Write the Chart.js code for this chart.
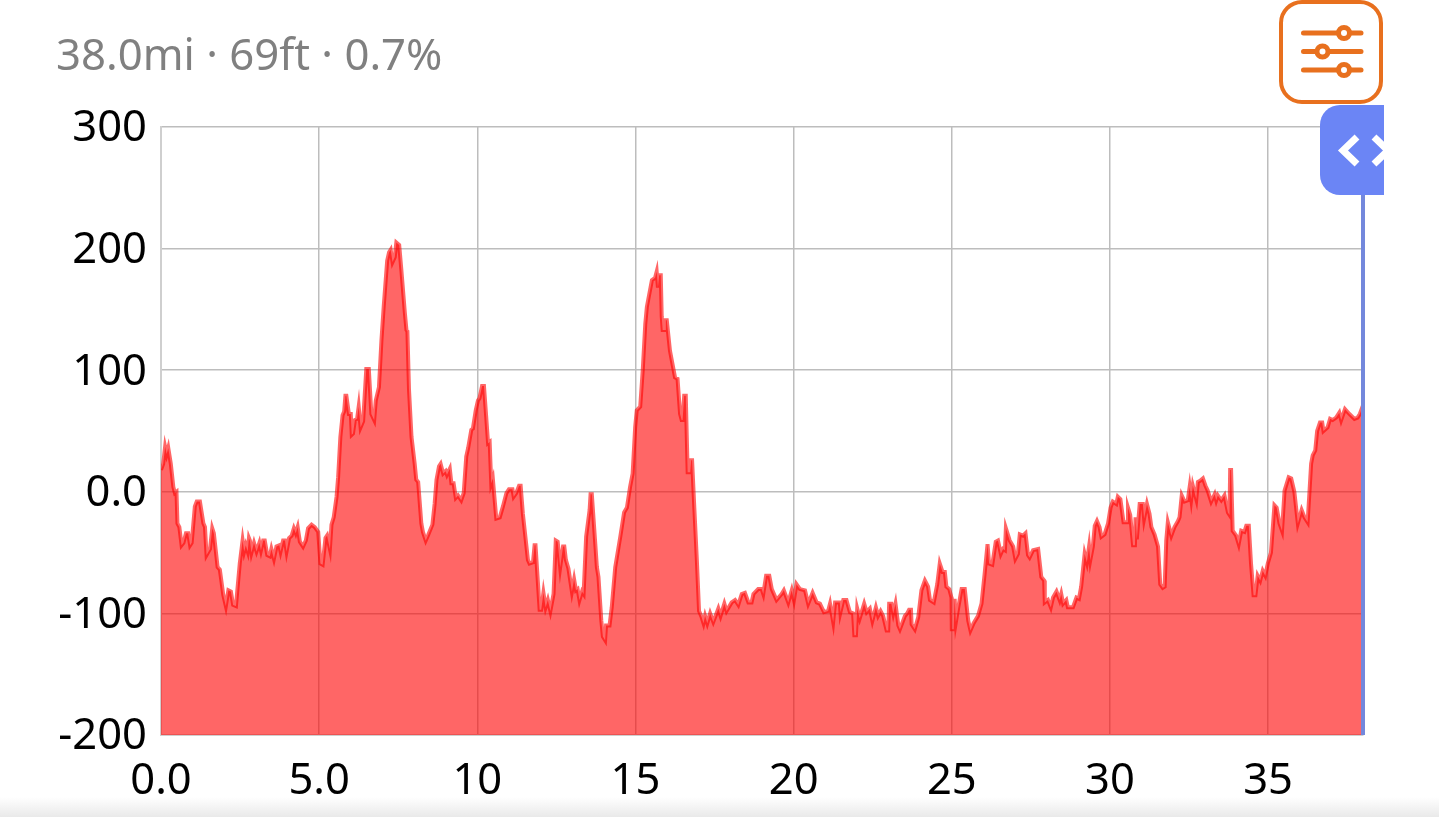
<!DOCTYPE html>
<html>
<head>
<meta charset="utf-8">
<title>Elevation profile</title>
<script src="https://cdn.jsdelivr.net/npm/chart.js@4"></script>
<style>
html,body{margin:0;padding:0;background:#fff;overflow:hidden;width:1439px;height:817px;font-family:"Noto Sans",sans-serif}
#wrap{position:relative;width:1439px;height:817px;overflow:hidden}
#summary{position:absolute;left:56px;top:26px;font-size:43.7px;line-height:54px;color:#808080;white-space:nowrap}
#filterBtn{position:absolute;left:1279px;top:0;width:96px;height:96px;border:4.5px solid #e8701e;border-radius:23px;background:#fff}
#handle{position:absolute;left:1320px;top:105px;width:64px;height:90px;background:#6b85f5;border-radius:20px 0 0 20px;overflow:hidden}
#cursor{position:absolute;left:1361px;top:195px;width:4px;height:540px;background:#7388dc}
#bottomBar{position:absolute;left:0;top:797px;width:1439px;height:20px;background:linear-gradient(#ffffff,#e9e9e9)}
canvas{position:absolute;left:0;top:0}
</style>
</head>
<body>
<div id="wrap">
  <canvas id="elevChart" width="1439" height="817"></canvas>
  <div id="bottomBar"></div>
  <div id="summary">38.0mi · 69ft · 0.7%</div>
  <div id="filterBtn">
    <svg width="96" height="96" viewBox="0 0 96 96" fill="none" stroke="#e8701e" stroke-width="5" stroke-linecap="round">
      <path d="M20.5 29H78M20.5 47.500H78M20.500 66H78"/>
      <circle cx="61" cy="29" r="5.500" fill="#fff"/>
      <circle cx="39.500" cy="47.500" r="5.500" fill="#fff"/>
      <circle cx="61" cy="66" r="5.500" fill="#fff"/>
    </svg>
  </div>
  <div id="cursor"></div>
  <div id="handle">
    <svg width="64" height="90" viewBox="0 0 64 90" fill="none" stroke="#fff" stroke-width="7">
      <path d="M37 32L23 45.500L37 59M54 32L68 45.500L54 59"/>
    </svg>
  </div>
</div>
<script>
"use strict"
//distance along the route, miles
var miles = [0,0.07,0.13,0.18,0.23,0.31,0.39,0.44,0.49,0.52,0.58,0.65,0.71,0.79,0.86,0.92,0.97,1.07,1.13,1.23,1.34,1.39,1.44,1.55,1.62,1.67,1.79,1.86,1.97,2.05,2.13,2.21,2.28,2.37,2.41,2.49,2.58,2.63,2.68,2.74,2.78,2.81,2.86,2.94,3.02,3.11,3.16,3.23,3.28,3.36,3.44,3.49,3.57,3.65,3.74,3.78,3.86,3.92,3.97,4.05,4.13,4.20,4.26,4.32,4.39,4.49,4.58,4.65,4.76,4.86,4.97,
5.04,5.11,5.20,5.25,5.34,5.39,5.46,5.55,5.60,5.67,5.74,5.79,5.83,5.86,5.94,6.00,6.03,6.07,6.13,6.20,6.25,6.31,6.39,6.49,6.57,6.65,6.74,6.79,6.89,6.97,7.04,7.15,7.21,7.26,7.32,7.39,7.44,7.53,7.60,7.71,7.76,7.79,7.84,7.92,8.02,8.07,8.13,8.23,8.28,8.37,8.44,8.58,8.65,8.71,8.79,8.84,8.92,9.00,9.04,9.13,9.18,9.25,9.32,9.39,9.49,9.57,9.65,9.71,9.81,9.86,9.95,
10.02,10.07,10.15,10.21,10.28,10.34,10.39,10.44,10.49,10.60,10.71,10.81,10.92,11.00,11.11,11.15,11.23,11.32,11.37,11.44,11.60,11.65,11.76,11.81,11.84,11.97,12.02,12.09,12.16,12.23,12.31,12.41,12.48,12.54,12.62,12.71,12.75,12.80,12.88,12.99,13.06,13.12,13.17,13.23,13.31,13.36,13.44,13.55,13.58,13.62,13.73,13.78,13.83,13.92,13.97,14.04,14.07,14.18,14.25,14.36,14.52,14.64,14.73,14.83,14.91,14.99,
15.04,15.15,15.23,15.31,15.36,15.52,15.62,15.67,15.71,15.75,15.80,15.83,15.86,15.94,15.96,15.99,16.09,16.25,16.33,16.41,16.46,16.49,16.54,16.59,16.65,16.73,16.76,16.79,16.86,16.94,17.01,17.09,17.15,17.20,17.27,17.36,17.46,17.62,17.69,17.81,17.88,18.04,18.15,18.25,18.36,18.46,18.57,18.67,18.73,18.88,18.99,19.04,19.13,19.23,19.31,19.46,19.62,19.69,19.83,19.94,
20.01,20.09,20.20,20.36,20.46,20.60,20.73,20.83,20.96,21.09,21.15,21.25,21.31,21.46,21.48,21.57,21.67,21.78,21.88,21.92,21.97,22.01,22.09,22.23,22.31,22.41,22.49,22.60,22.67,22.75,22.83,22.94,22.99,23.02,23.09,23.15,23.22,23.31,23.36,23.52,23.59,23.65,23.71,23.73,23.83,23.94,24.04,24.15,24.25,24.31,24.43,24.54,24.62,24.71,24.78,24.83,24.92,24.99,
25.00,25.06,25.09,25.13,25.20,25.31,25.41,25.52,25.59,25.69,25.83,25.94,26.04,26.13,26.18,26.28,26.39,26.46,26.55,26.62,26.68,26.71,26.83,26.94,27.01,27.09,27.15,27.25,27.33,27.41,27.46,27.57,27.73,27.83,27.92,27.94,28.04,28.13,28.20,28.31,28.41,28.46,28.52,28.62,28.67,28.83,28.94,29.02,29.09,29.20,29.27,29.34,29.38,29.46,29.52,29.59,29.67,29.73,29.83,29.94,
30.02,30.09,30.20,30.25,30.33,30.43,30.54,30.57,30.64,30.73,30.79,30.81,30.85,30.94,31.04,31.08,31.17,31.25,31.31,31.41,31.52,31.59,31.67,31.73,31.78,31.83,31.94,32.04,32.15,32.20,32.27,32.36,32.46,32.52,32.57,32.62,32.73,32.78,32.85,32.94,33.02,33.09,33.20,33.31,33.36,33.41,33.52,33.62,33.73,33.78,33.80,33.83,33.88,33.99,34.07,34.15,34.25,34.31,34.39,34.46,34.54,34.60,34.67,34.75,34.83,34.91,34.99,
35.09,35.20,35.27,35.36,35.44,35.52,35.65,35.73,35.83,35.94,36.06,36.15,36.25,36.31,36.36,36.41,36.49,36.55,36.64,36.71,36.75,36.88,36.96,37.04,37.15,37.25,37.31,37.43,37.57,37.73,37.83,37.90,38.00];
//elevation change, feet
var elevation = [18,23,37,31,36,23,4,-1,0,-26,-29,-44,-42,-34,-34,-44,-42,-12,-8,-8,-26,-29,-52,-47,-30,-34,-62,-64,-85,-94,-81,-82,-93,-94,-82,-59,-40,-49,-44,-49,-38,-40,-50,-42,-49,-42,-48,-40,-40,-52,-53,-47,-55,-45,-44,-49,-40,-40,-49,-38,-36,-30,-34,-29,-41,-45,-40,-30,-27,-29,-33,
-59,-60,-38,-36,-47,-27,-21,-4,12,45,63,66,79,79,64,64,47,48,59,60,70,53,58,101,101,64,59,75,86,125,152,190,197,199,189,193,205,203,182,147,133,132,84,45,23,10,8,-26,-33,-40,-36,-27,-10,10,21,23,15,17,14,19,7,7,-5,-3,-7,-1,29,36,51,52,67,
75,77,87,87,62,40,41,7,11,-22,-21,-12,-1,2,2,-4,-1,5,5,-18,-56,-59,-58,-44,-44,-97,-97,-83,-95,-89,-98,-84,-40,-41,-62,-45,-45,-56,-63,-82,-72,-81,-80,-89,-82,-84,-37,-15,-2,-2,-43,-62,-70,-106,-119,-122,-110,-110,-95,-62,-37,-17,-13,4,15,53,
67,70,100,138,152,174,176,181,168,178,178,144,133,133,141,141,116,94,93,64,59,59,79,79,16,16,26,26,-13,-56,-98,-103,-108,-102,-108,-100,-107,-96,-102,-92,-98,-91,-89,-93,-84,-83,-91,-91,-84,-80,-80,-84,-69,-69,-80,-89,-84,-81,-91,-81,
-89,-76,-80,-81,-92,-83,-91,-92,-99,-98,-92,-107,-91,-91,-99,-89,-89,-99,-100,-118,-118,-96,-104,-92,-99,-96,-106,-95,-102,-98,-102,-114,-114,-92,-92,-100,-92,-110,-113,-102,-100,-97,-97,-109,-113,-103,-81,-73,-78,-89,-91,-76,-59,-66,-66,-78,-80,-87,
-113,-113,-88,-107,-96,-80,-80,-106,-114,-108,-102,-92,-67,-43,-59,-60,-41,-40,-51,-47,-48,-30,-40,-45,-55,-51,-35,-36,-34,-52,-54,-48,-47,-70,-73,-91,-89,-95,-87,-82,-89,-84,-92,-89,-95,-95,-87,-88,-78,-51,-58,-45,-56,-45,-28,-24,-29,-37,-35,-26,
-13,-8,-10,-4,-6,-25,-25,-13,-19,-44,-44,-21,-39,-10,-10,-22,-10,-18,-29,-35,-45,-76,-79,-78,-40,-25,-36,-29,-24,-21,-3,-8,-7,4,-6,5,-6,8,9,11,5,1,-8,-2,-7,-3,-7,-3,-17,-19,18,18,-32,-36,-43,-32,-33,-28,-28,-59,-85,-85,-69,-73,-65,-69,-59,
-50,-11,-13,-26,-32,1,12,11,0,-26,-15,-21,-25,1,23,30,34,50,57,57,50,53,60,59,61,65,59,68,64,60,61,64,71];
var xTickLabels = ["0.0","5.0","10","15","20","25","30","35"];
var yTickLabels = ["-200","-100","0.0","100","200","300"];

var points = miles.map(function(m, i) { return {x: m, y: elevation[i]}; });
var tickFont = {family: "'Noto Sans', sans-serif", size: 43.5};

new Chart(document.getElementById("elevChart"), {
  type: "line",
  data: {
    datasets: [{
      label: "Elevation",
      data: points,
      borderColor: "rgba(255,0,0,0.6)",
      backgroundColor: "rgba(255,0,0,0.6)",
      borderWidth: 4,
      pointRadius: 0,
      tension: 0,
      fill: "start"
    }]
  },
  options: {
    responsive: false,
    animation: false,
    layout: {padding: {top: 127, right: 76, left: 0, bottom: 0}},
    plugins: {legend: {display: false}, tooltip: {enabled: false}},
    scales: {
      x: {
        type: "linear",
        min: 0,
        max: 38,
        afterFit: function(s) { s.height = 82; },
        grid: {color: "#bdbdbd", lineWidth: 1.5, drawTicks: false},
        border: {color: "#cfcfcf", width: 2},
        ticks: {
          stepSize: 5,
          includeBounds: false,
          maxRotation: 0,
          autoSkip: false,
          padding: 21,
          color: "#000",
          font: tickFont,
          callback: function(v) { return xTickLabels[v / 5]; }
        }
      },
      y: {
        min: -200,
        max: 300,
        afterFit: function(s) { s.width = 161; },
        grid: {color: "#bdbdbd", lineWidth: 1.5, drawTicks: false},
        border: {color: "#cfcfcf", width: 2},
        ticks: {
          stepSize: 100,
          padding: 14,
          labelOffset: 2,
          color: "#000",
          font: tickFont,
          callback: function(v) { return yTickLabels[(v + 200) / 100]; }
        }
      }
    }
  }
});
</script>
</body>
</html>
